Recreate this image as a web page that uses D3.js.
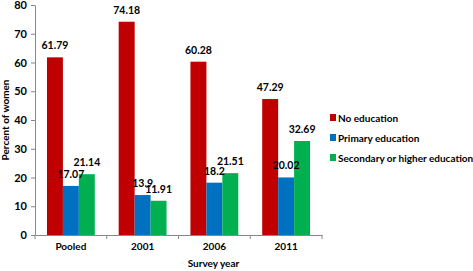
<!DOCTYPE html>
<html>
<head>
<meta charset="utf-8">
<script src="https://cdn.jsdelivr.net/npm/d3@7"></script>
<style>
body{margin:0;background:#fff;}
text{font-family:Lato,"Open Sans",sans-serif;fill:#000;}
</style>
</head>
<body>
<script>
//chart values
var categories = ["Pooled", "2001", "2006", "2011"];
var seriesNames = ["No education", "Primary education", "Secondary or higher education"];
var noEducation = [61.79, 74.18, 60.28, 47.29];
var primaryEducation = [17.07, 13.9, 18.2, 20.02];
var secondaryEducation = [21.14, 11.91, 21.51, 32.69];
var yTicks = [0, 10, 20, 30, 40, 50, 60, 70, 80];
var colors = ["#c00000", "#0070c0", "#00b050"];

window.onload = drawChart();

function drawChart(){
    var width = 473,
        height = 271;

    var svg = d3.select("body")
        .append("svg")
        .attr("width", width)
        .attr("height", height);

    //plot area
    var left = 35, right = 322, top = 5, bottom = 235;

    var x = d3.scaleBand()
        .domain(categories)
        .range([left, right]);

    var x1 = d3.scaleBand()
        .domain(seriesNames)
        .range([0, x.bandwidth()])
        .paddingOuter(0.75)
        .paddingInner(0);

    var y = d3.scaleLinear()
        .domain([0, 80])
        .range([bottom, top]);

    var series = [noEducation, primaryEducation, secondaryEducation];

    //y axis
    var yAxis = svg.append("g")
        .attr("transform", "translate(" + left + ",0)")
        .call(d3.axisLeft(y).tickValues(yTicks).tickSize(4).tickSizeOuter(0));
    yAxis.select(".domain").attr("stroke", "#888");
    yAxis.selectAll(".tick line").attr("stroke", "#888");
    yAxis.selectAll(".tick text")
        .attr("x", -8)
        .style("font-size", "11px")
        .style("font-weight", "bold");

    //x axis
    var xAxis = svg.append("g")
        .attr("transform", "translate(0," + bottom + ")")
        .call(d3.axisBottom(x).tickSize(0).tickSizeOuter(0));
    xAxis.select(".domain").attr("stroke", "#888");
    xAxis.selectAll(".tick text")
        .attr("dy", "1.1em")
        .attr("y", 4)
        .style("font-size", "10px")
        .style("font-weight", "bold");

    //category separator ticks
    svg.selectAll(".sep")
        .data(categories.concat(["end"]))
        .enter()
        .append("line")
        .attr("x1", function(d, i){ return left + i * x.bandwidth(); })
        .attr("x2", function(d, i){ return left + i * x.bandwidth(); })
        .attr("y1", bottom)
        .attr("y2", bottom + 4)
        .attr("stroke", "#888");

    //bars
    series.forEach(function(values, s){
        svg.selectAll(".bar" + s)
            .data(values)
            .enter()
            .append("rect")
            .attr("x", function(d, i){ return x(categories[i]) + x1(seriesNames[s]); })
            .attr("y", function(d){ return y(d); })
            .attr("width", x1.bandwidth())
            .attr("height", function(d){ return bottom - y(d); })
            .attr("fill", colors[s]);
    });

    //value labels, drawn over all bars
    series.forEach(function(values, s){
        svg.selectAll(".label" + s)
            .data(values)
            .enter()
            .append("text")
            .attr("x", function(d, i){ return x(categories[i]) + x1(seriesNames[s]) + x1.bandwidth() / 2; })
            .attr("y", function(d){ return y(d) - 8; })
            .attr("text-anchor", "middle")
            .style("font-size", "10.5px")
            .style("font-weight", "bold")
            .text(function(d){ return d; });
    });

    //axis titles
    svg.append("text")
        .attr("x", (left + right) / 2 + 35)
        .attr("y", 267)
        .attr("text-anchor", "middle")
        .style("font-size", "10px")
        .style("font-weight", "bold")
        .text("Survey year");

    svg.append("text")
        .attr("transform", "translate(9," + ((top + bottom) / 2) + ") rotate(-90)")
        .attr("text-anchor", "middle")
        .style("font-size", "10px")
        .style("font-weight", "bold")
        .text("Percent of women");

    //legend
    var legend = svg.selectAll(".legend")
        .data(seriesNames)
        .enter()
        .append("g")
        .attr("transform", function(d, i){ return "translate(330," + (118 + i * 20) + ")"; });
    legend.append("rect")
        .attr("x", 0)
        .attr("y", -4)
        .attr("width", 6)
        .attr("height", 7)
        .attr("fill", function(d, i){ return colors[i]; });
    legend.append("text")
        .attr("x", 8)
        .attr("y", 4)
        .style("font-size", "10px")
        .style("font-weight", "bold")
        .text(function(d){ return d; });
};
</script>
</body>
</html>
